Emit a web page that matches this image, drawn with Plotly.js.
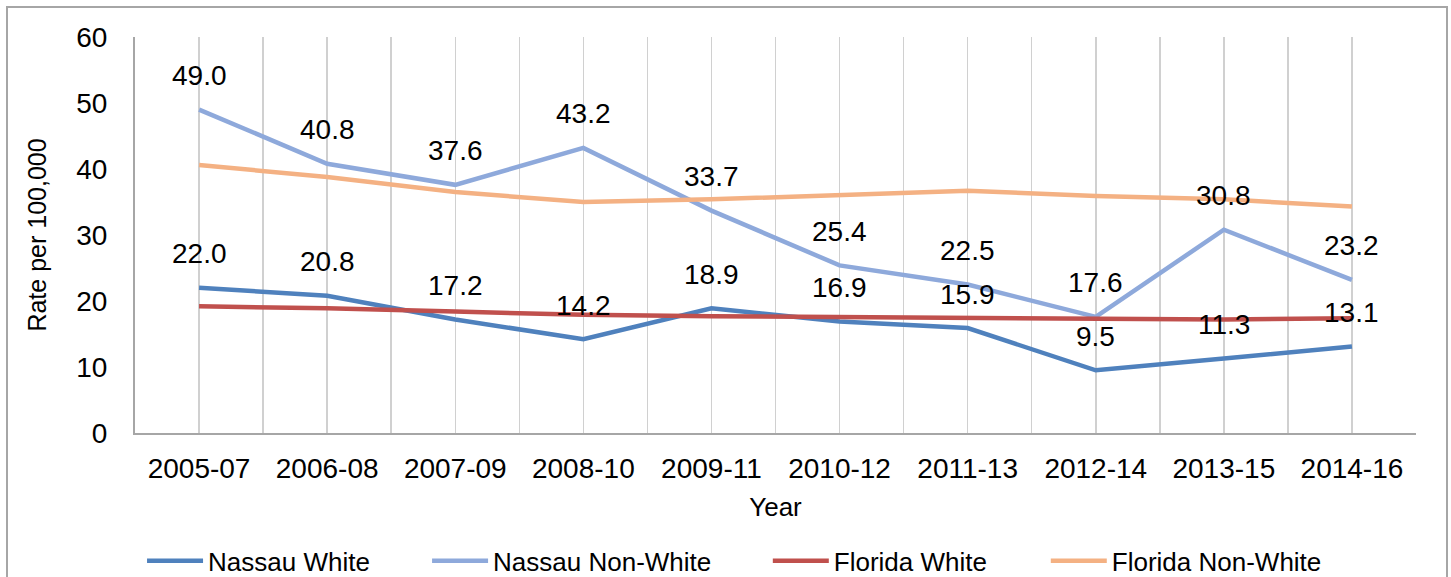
<!DOCTYPE html>
<html>
<head>
<meta charset="utf-8">
<script src="https://cdn.plot.ly/plotly-3.0.1.min.js"></script>
<style>
  html, body { margin: 0; padding: 0; width: 1451px; height: 577px; overflow: hidden; background: #fff; }
  #chart { position: absolute; left: 0; top: 0; width: 1451px; height: 577px; }
  #frame { position: absolute; left: 6px; top: 6px; width: 1438px; height: 620px; border: 2px solid #A6A6A6; pointer-events: none; z-index: 10; }
</style>
</head>
<body>
<div id="chart"></div>
<div id="frame"></div>
<script>
const categories = ["2005-07", "2006-08", "2007-09", "2008-10", "2009-11", "2010-12", "2011-13", "2012-14", "2013-15", "2014-16"];
const nassauWhite = [22.0, 20.8, 17.2, 14.2, 18.9, 16.9, 15.9, 9.5, 11.3, 13.1];
const nassauNonWhite = [49.0, 40.8, 37.6, 43.2, 33.7, 25.4, 22.5, 17.6, 30.8, 23.2];
const floridaWhite = [19.2, 18.9, 18.4, 17.9, 17.7, 17.6, 17.5, 17.4, 17.2, 17.4];
const floridaNonWhite = [40.6, 38.8, 36.5, 35.0, 35.4, 36.0, 36.7, 35.9, 35.4, 34.3];

const xIdx = categories.map((_, i) => i);
const seriesDefs = [
  { name: "Nassau White", y: nassauWhite, color: "#4F81BD", labels: true, legend: "legend", lx: 0.0055 },
  { name: "Nassau Non-White", y: nassauNonWhite, color: "#8EA9DB", labels: true, legend: "legend2", lx: 0.228 },
  { name: "Florida White", y: floridaWhite, color: "#C0504D", labels: false, legend: "legend3", lx: 0.494 },
  { name: "Florida Non-White", y: floridaNonWhite, color: "#F4B183", labels: false, legend: "legend4", lx: 0.711 }
];

const traces = seriesDefs.map(s => ({
  type: "scatter", mode: "lines", name: s.name,
  x: xIdx, y: s.y, legend: s.legend,
  line: { color: s.color, width: 4.5 },
  hoverinfo: "skip"
}));

const annotations = [];
seriesDefs.filter(s => s.labels).forEach(s => {
  s.y.forEach((v, i) => {
    annotations.push({
      x: i, y: v, xref: "x", yref: "y",
      text: v.toFixed(1), showarrow: false,
      xanchor: "center", yanchor: "middle", yshift: 34,
      font: { family: "Liberation Sans, Arial, sans-serif", size: 28, color: "#000" }
    });
  });
});

const layout = {
  width: 1451, height: 577,
  margin: { l: 135, r: 35, t: 37, b: 144, autoexpand: false },
  paper_bgcolor: "#fff", plot_bgcolor: "#fff",
  font: { family: "Liberation Sans, Arial, sans-serif", color: "#000" },
  showlegend: true,
  xaxis: {
    range: [-0.5, 9.5],
    tickmode: "array", tickvals: xIdx, ticktext: categories,
    showgrid: true, gridcolor: "#D0D0D0", gridwidth: 1.5,
    minor: { tickmode: "linear", tick0: 0.5, dtick: 1, showgrid: true, gridcolor: "#D0D0D0", gridwidth: 1.5 },
    showline: true, linecolor: "#A6A6A6", linewidth: 2,
    ticks: "", zeroline: false,
    tickfont: { size: 28, color: "#000" },
    ticklabelstandoff: 9,
    title: { text: "Year", font: { size: 26, color: "#000" }, standoff: 15 },
    fixedrange: true
  },
  yaxis: {
    range: [0, 60], tickmode: "linear", tick0: 0, dtick: 10,
    showgrid: false, zeroline: false,
    showline: true, linecolor: "#A6A6A6", linewidth: 2,
    ticks: "",
    tickfont: { size: 28, color: "#000" },
    ticklabelstandoff: 20,
    title: { text: "Rate per 100,000", font: { size: 25, color: "#000" }, standoff: 22 },
    fixedrange: true
  },
  annotations: annotations
};

seriesDefs.forEach(s => {
  layout[s.legend] = {
    orientation: "h", x: s.lx, xanchor: "left", y: -0.323, yanchor: "middle",
    font: { size: 26, color: "#000" },
    itemwidth: 56, tracegroupgap: 0,
    bgcolor: "rgba(0,0,0,0)"
  };
});

Plotly.newPlot("chart", traces, layout, { displayModeBar: false, staticPlot: true });
</script>
</body>
</html>
